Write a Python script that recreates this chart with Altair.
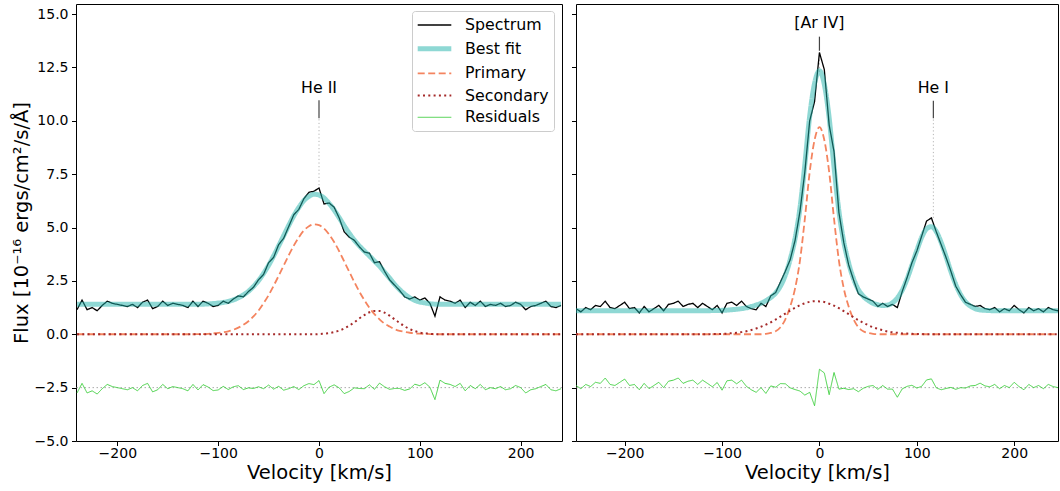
import json
import altair as alt
import pandas as pd

# ---------------- data ----------------
SERIES = ["Spectrum", "Best fit", "Primary", "Secondary", "Residuals"]

# Left panel (He II), velocity grid -240 ... 240 km/s, step 5
VEL_L = list(range(-240, 241, 5))
SPEC_L = [
    1.15, 1.60, 1.15, 1.25, 1.10, 1.35, 1.55, 1.45, 1.40, 1.35, 1.30, 1.40,
    1.25, 1.50, 1.60, 1.20, 1.30, 1.55, 1.35, 1.45, 1.40, 1.35, 1.25, 1.55,
    1.30, 1.55, 1.45, 1.30, 1.35, 1.55, 1.45, 1.65, 1.80, 1.75, 2.00, 2.20,
    2.55, 2.80, 3.35, 3.60, 4.20, 4.50, 5.05, 5.60, 5.85, 6.35, 6.65, 6.70,
    6.85, 6.10, 6.15, 5.95, 5.45, 4.80, 4.55, 4.40, 4.10, 3.85, 3.80, 3.35,
    3.40, 2.95, 2.55, 2.30, 2.05, 1.75, 1.65, 1.75, 1.60, 1.70, 1.45, 0.85,
    1.75, 1.60, 1.55, 1.45, 1.60, 1.25, 1.50, 1.35, 1.55, 1.30, 1.40, 1.35,
    1.45, 1.30, 1.35, 1.50, 1.40, 1.15, 1.30, 1.35, 1.45, 1.55, 1.30, 1.25,
    1.35,
]
FIT_L = [
    1.40, 1.40, 1.40, 1.40, 1.40, 1.40, 1.40, 1.40, 1.40, 1.40, 1.40, 1.40,
    1.40, 1.40, 1.40, 1.40, 1.40, 1.40, 1.40, 1.40, 1.40, 1.40, 1.40, 1.40,
    1.41, 1.41, 1.42, 1.44, 1.46, 1.49, 1.54, 1.61, 1.71, 1.84, 2.01, 2.24,
    2.51, 2.85, 3.23, 3.67, 4.14, 4.62, 5.10, 5.55, 5.94, 6.26, 6.46, 6.56,
    6.52, 6.38, 6.13, 5.82, 5.46, 5.08, 4.73, 4.41, 4.14, 3.90, 3.67, 3.43,
    3.19, 2.91, 2.63, 2.34, 2.09, 1.88, 1.71, 1.59, 1.51, 1.47, 1.43, 1.41,
    1.40, 1.40, 1.40, 1.40, 1.40, 1.40, 1.40, 1.40, 1.40, 1.40, 1.40, 1.40,
    1.40, 1.40, 1.40, 1.40, 1.40, 1.40, 1.40, 1.40, 1.40, 1.40, 1.40, 1.40,
    1.40,
]
PRIM_L = [
    0.00, 0.00, 0.00, 0.00, 0.00, 0.00, 0.00, 0.00, 0.00, 0.00, 0.00, 0.00,
    0.00, 0.00, 0.00, 0.00, 0.00, 0.00, 0.00, 0.00, 0.00, 0.00, 0.00, 0.00,
    0.01, 0.01, 0.02, 0.04, 0.06, 0.09, 0.14, 0.21, 0.31, 0.44, 0.61, 0.84,
    1.11, 1.45, 1.83, 2.27, 2.74, 3.22, 3.70, 4.15, 4.54, 4.86, 5.06, 5.15,
    5.11, 4.95, 4.68, 4.32, 3.89, 3.41, 2.93, 2.45, 2.00, 1.60, 1.24, 0.94,
    0.70, 0.50, 0.36, 0.24, 0.16, 0.11, 0.07, 0.04, 0.03, 0.02, 0.01, 0.00,
    0.00, 0.00, 0.00, 0.00, 0.00, 0.00, 0.00, 0.00, 0.00, 0.00, 0.00, 0.00,
    0.00, 0.00, 0.00, 0.00, 0.00, 0.00, 0.00, 0.00, 0.00, 0.00, 0.00, 0.00,
    0.00,
]
SEC_L = [
    0.00, 0.00, 0.00, 0.00, 0.00, 0.00, 0.00, 0.00, 0.00, 0.00, 0.00, 0.00,
    0.00, 0.00, 0.00, 0.00, 0.00, 0.00, 0.00, 0.00, 0.00, 0.00, 0.00, 0.00,
    0.00, 0.00, 0.00, 0.00, 0.00, 0.00, 0.00, 0.00, 0.00, 0.00, 0.00, 0.00,
    0.00, 0.00, 0.00, 0.00, 0.00, 0.00, 0.00, 0.00, 0.00, 0.00, 0.00, 0.00,
    0.01, 0.03, 0.05, 0.10, 0.17, 0.27, 0.40, 0.56, 0.74, 0.90, 1.03, 1.09,
    1.09, 1.01, 0.87, 0.70, 0.53, 0.37, 0.24, 0.15, 0.08, 0.05, 0.02, 0.01,
    0.00, 0.00, 0.00, 0.00, 0.00, 0.00, 0.00, 0.00, 0.00, 0.00, 0.00, 0.00,
    0.00, 0.00, 0.00, 0.00, 0.00, 0.00, 0.00, 0.00, 0.00, 0.00, 0.00, 0.00,
    0.00,
]
RES_L = [
    -2.75, -2.30, -2.75, -2.65, -2.80, -2.55, -2.35, -2.45, -2.50, -2.55, -2.60, -2.50,
    -2.65, -2.40, -2.30, -2.70, -2.60, -2.35, -2.55, -2.45, -2.50, -2.55, -2.65, -2.35,
    -2.61, -2.36, -2.47, -2.64, -2.61, -2.44, -2.59, -2.46, -2.41, -2.59, -2.51, -2.54,
    -2.46, -2.55, -2.38, -2.57, -2.44, -2.62, -2.55, -2.45, -2.59, -2.41, -2.31, -2.36,
    -2.17, -2.78, -2.48, -2.37, -2.51, -2.78, -2.68, -2.51, -2.54, -2.55, -2.37, -2.58,
    -2.29, -2.46, -2.58, -2.54, -2.54, -2.63, -2.56, -2.34, -2.41, -2.27, -2.48, -3.06,
    -2.15, -2.30, -2.35, -2.45, -2.30, -2.65, -2.40, -2.55, -2.35, -2.60, -2.50, -2.55,
    -2.45, -2.60, -2.55, -2.40, -2.50, -2.75, -2.60, -2.55, -2.45, -2.35, -2.60, -2.65,
    -2.55,
]

# Right panel ([Ar IV] + He I), velocity grid -250 ... 245 km/s, step 5
VEL_R = list(range(-250, 246, 5))
SPEC_R = [
    1.20, 1.05, 1.25, 1.15, 1.35, 1.30, 1.55, 1.25, 1.20, 1.35, 1.50, 1.20,
    1.25, 1.00, 1.30, 1.05, 1.20, 1.35, 1.10, 1.40, 1.45, 1.55, 1.30, 1.40,
    1.45, 1.25, 1.45, 1.30,
    1.15, 1.35, 1.00, 1.45, 1.50, 1.35, 1.55, 1.30, 1.20, 1.15, 1.45, 1.30,
    1.80, 1.95, 2.45, 2.95, 3.50, 4.40, 5.75, 7.60, 10.00, 10.90,
    13.20, 12.40, 9.80, 8.55, 5.70, 4.30, 3.25, 2.55, 1.90, 1.75, 1.65, 1.55,
    1.30, 1.45, 1.30, 1.40, 1.25, 2.00, 2.65, 3.35, 3.90, 4.60, 5.30, 5.45,
    4.80, 4.20, 3.60, 2.95, 2.25, 1.85, 1.50, 1.40, 1.30, 1.35, 1.20, 1.15,
    1.25, 1.05, 1.20, 1.10, 1.35, 1.15, 1.00, 1.25, 1.10, 1.20, 1.05, 1.25,
    1.15, 1.10,
]
FIT_R = [
    1.10, 1.10, 1.10, 1.10, 1.10, 1.10, 1.10, 1.10, 1.10, 1.10, 1.10, 1.10,
    1.10, 1.10, 1.10, 1.10, 1.10, 1.10, 1.10, 1.10, 1.10, 1.10, 1.10, 1.10,
    1.10, 1.10, 1.10, 1.10,
    1.11, 1.11, 1.12, 1.13, 1.15, 1.17, 1.20, 1.24, 1.30, 1.37, 1.45, 1.57,
    1.72, 1.93, 2.26, 2.77, 3.51, 4.49, 5.91, 7.95, 10.22, 11.75,
    12.34, 11.71, 10.13, 7.84, 5.77, 4.33, 3.34, 2.60, 2.09, 1.78, 1.59, 1.45,
    1.38, 1.35, 1.37, 1.47, 1.70, 2.06, 2.59, 3.24, 3.92, 4.54, 4.94, 5.04,
    4.81, 4.30, 3.64, 2.94, 2.33, 1.85, 1.52, 1.32, 1.20, 1.14, 1.12, 1.11,
    1.10, 1.10, 1.10, 1.10, 1.10, 1.10, 1.10, 1.10, 1.10, 1.10, 1.10, 1.10,
    1.10, 1.10,
]
PRIM_R = [
    0.00, 0.00, 0.00, 0.00, 0.00, 0.00, 0.00, 0.00, 0.00, 0.00, 0.00, 0.00,
    0.00, 0.00, 0.00, 0.00, 0.00, 0.00, 0.00, 0.00, 0.00, 0.00, 0.00, 0.00,
    0.00, 0.00, 0.00, 0.00, 0.00, 0.00, 0.00, 0.00, 0.00, 0.00, 0.00, 0.00,
    0.00, 0.00, 0.00,
    0.02, 0.06, 0.14, 0.33, 0.70, 1.30, 2.15, 3.45, 5.40, 7.60, 9.10, 9.70,
    9.10, 7.60, 5.40, 3.45, 2.15, 1.30, 0.70, 0.33, 0.14, 0.06, 0.02,
    0.00, 0.00, 0.00, 0.00, 0.00, 0.00, 0.00, 0.00, 0.00, 0.00, 0.00, 0.00,
    0.00, 0.00, 0.00, 0.00, 0.00, 0.00, 0.00, 0.00, 0.00, 0.00, 0.00, 0.00,
    0.00, 0.00, 0.00, 0.00, 0.00, 0.00, 0.00, 0.00, 0.00, 0.00, 0.00, 0.00,
    0.00, 0.00,
]
SEC_R = [
    0.00, 0.00, 0.00, 0.00, 0.00, 0.00, 0.00, 0.00, 0.00, 0.00, 0.00, 0.00,
    0.00, 0.00, 0.00, 0.00, 0.00, 0.00, 0.00, 0.00, 0.00, 0.00, 0.00, 0.00,
    0.00, 0.00, 0.00, 0.00,
    0.01, 0.01, 0.02, 0.03, 0.05, 0.07, 0.10, 0.14, 0.20, 0.27, 0.35, 0.45,
    0.56, 0.69, 0.83, 0.97, 1.11, 1.24, 1.36, 1.45, 1.52, 1.55,
    1.54, 1.51, 1.43, 1.34, 1.22, 1.08, 0.94, 0.80, 0.66, 0.54, 0.43, 0.33,
    0.25, 0.19, 0.13, 0.09, 0.07, 0.04, 0.03, 0.02, 0.01, 0.01,
    0.00, 0.00, 0.00, 0.00, 0.00, 0.00, 0.00, 0.00, 0.00, 0.00, 0.00, 0.00,
    0.00, 0.00, 0.00, 0.00, 0.00, 0.00, 0.00, 0.00, 0.00, 0.00, 0.00, 0.00,
    0.00, 0.00, 0.00, 0.00,
]
RES_R = [
    -2.40, -2.55, -2.35, -2.45, -2.25, -2.30, -2.05, -2.35, -2.40, -2.25, -2.10, -2.40,
    -2.35, -2.60, -2.30, -2.55, -2.40, -2.25, -2.50, -2.20, -2.15, -2.05, -2.30, -2.20,
    -2.15, -2.35, -2.15, -2.30,
    -2.46, -2.26, -2.62, -2.18, -2.15, -2.32, -2.15, -2.44, -2.60, -2.72, -2.50, -2.77,
    -2.42, -2.48, -2.31, -2.32, -2.51, -2.59, -2.66, -2.85, -2.72, -3.35,
    -1.64, -1.81, -2.83, -1.79, -2.57, -2.53, -2.59, -2.55, -2.69, -2.53, -2.44, -2.40,
    -2.58, -2.40, -2.57, -2.57, -2.95, -2.56, -2.44, -2.39, -2.52, -2.44, -2.14, -2.09,
    -2.51, -2.60, -2.54, -2.49, -2.58, -2.50, -2.52, -2.42, -2.40, -2.29, -2.42, -2.46,
    -2.35, -2.55, -2.40, -2.50, -2.25, -2.45, -2.60, -2.35, -2.50, -2.40, -2.55, -2.35,
    -2.45, -2.50,
]

# line identifications
ANN_L_V = [0]
ANN_L_LABEL = ["He II"]
ANN_L_TEXT_Y = [11.55]
ANN_L_TICK_LO = [10.12]
ANN_L_TICK_HI = [10.96]
ANN_L_GUIDE_LO = [6.98]

ANN_R_V = [0, 117]
ANN_R_LABEL = ["[Ar IV]", "He I"]
ANN_R_TEXT_Y = [14.57, 11.55]
ANN_R_TICK_LO = [13.28, 10.12]
ANN_R_TICK_HI = [13.94, 10.94]
ANN_R_GUIDE_LO = [12.3, 5.45]

RES_BASE = [-2.5]
XTICKS = [-200, -100, 0, 100, 200]
YTICKS = [-5, -2.5, 0, 2.5, 5, 7.5, 10, 12.5, 15]

for arr in (SPEC_L, FIT_L, PRIM_L, SEC_L, RES_L):
    assert len(arr) == len(VEL_L), len(arr)
for arr in (SPEC_R, FIT_R, PRIM_R, SEC_R, RES_R):
    assert len(arr) == len(VEL_R), len(arr)

# ---------------- styling ----------------
CODES = [0, 1, 2, 3, 4]
COLORS = ["#000000", "#20b2aa", "#f4845f", "#a52a2a", "#33cc33"]
WIDTHS = [1.3, 5.0, 1.8, 2.0, 0.9]
DASHES = [[1, 0], [1, 0], [7, 3.5], [2, 3.3], [1, 0]]
OPACS = [1.0, 0.5, 1.0, 1.0, 1.0]
INTERP = ["linear", "monotone", "monotone", "monotone", "linear"]
FONT = "DejaVu Sans"
YDOM = [-5, 15.47]
H = 437

NAMES_JS = json.dumps(SERIES).replace('"', "'")


def long_frame(vel, arrays):
    rows = []
    for code, (name, vals) in enumerate(zip(SERIES, arrays)):
        for v, f in zip(vel, vals):
            rows.append({"v": v, "flux": f, "series": name, "code": code})
    return pd.DataFrame(rows)


def panel(vel, arrays, xdom, width, ann, left_axis, legend):
    df = long_frame(vel, arrays)
    xs = alt.Scale(domain=xdom, nice=False, zero=False)
    ys = alt.Scale(domain=YDOM, nice=False, zero=False)
    xax = alt.Axis(values=XTICKS, title="Velocity [km/s]",
                   labelExpr="replace(format(datum.value, 'd'), '-', '\u2212')",
                   labelFlush=False, labelPadding=1, titlePadding=2.5)
    if left_axis:
        yax = alt.Axis(values=YTICKS, title="Flux [10\u207b\u00b9\u2076 ergs/cm\u00b2/s/\u00c5]",
                       labelExpr="replace(format(datum.value, '.1f'), '-', '\u2212')",
                       labelFlush=False, labelPadding=3.5, titlePadding=3)
    else:
        yax = alt.Axis(values=YTICKS, title=None, labels=False)

    X = lambda f: alt.X(f, scale=xs, axis=xax)
    Y = lambda f: alt.Y(f, scale=ys, axis=yax)

    layers = []
    base = alt.Chart(pd.DataFrame({"y": RES_BASE})).mark_rule(
        color="#aaaaaa", strokeDash=[1.5, 2.5], strokeWidth=1
    ).encode(y=Y("y:Q"))
    layers.append(base)

    adf = pd.DataFrame(ann)
    guide = alt.Chart(adf).mark_rule(color="#b5b5b5", strokeDash=[1.2, 2.4], strokeWidth=1).encode(
        x=X("v:Q"), y=Y("guide_lo:Q"), y2="tick_lo:Q")
    tick = alt.Chart(adf).mark_rule(color="#444444", strokeWidth=1.2).encode(
        x=X("v:Q"), y=Y("tick_lo:Q"), y2="tick_hi:Q")
    txt = alt.Chart(adf).mark_text(font=FONT, fontSize=15.8, color="black",
                                   baseline="middle", align="center").encode(
        x=X("v:Q"), y=Y("y_text:Q"), text="label:N")
    layers += [guide, tick, txt]

    for i, name in enumerate(SERIES):
        sub = df[df["series"] == name]
        layers.append(
            alt.Chart(sub).mark_line(clip=True, interpolate=INTERP[i]).encode(
                x=X("v:Q"), y=Y("flux:Q"),
                color=alt.Color("code:O", scale=alt.Scale(domain=CODES, range=COLORS), legend=legend),
                strokeDash=alt.StrokeDash("code:O", scale=alt.Scale(domain=CODES, range=DASHES), legend=legend),
                strokeWidth=alt.StrokeWidth("code:Q", scale=alt.Scale(type="threshold", domain=CODES, range=[1.0] + WIDTHS), legend=legend),
                opacity=alt.Opacity("code:Q", scale=alt.Scale(type="threshold", domain=CODES, range=[1.0] + OPACS), legend=legend),
            )
        )
    return alt.layer(*layers).properties(width=width, height=H)


LEG = alt.Legend(
    orient="none", legendX=336, legendY=7, title=None,
    symbolType="M-2.1,0H2.1", symbolSize=256, symbolOffset=7,
    labelOffset=20, padding=5, rowPadding=5.2,
    strokeColor="#cccccc", fillColor="white", cornerRadius=3,
    labelFont=FONT, labelFontSize=15.8, labelColor="black", labelLimit=300,
    labelExpr=f"{NAMES_JS}[datum.value]",
)

left = panel(
    VEL_L, [SPEC_L, FIT_L, PRIM_L, SEC_L, RES_L], [-241, 241], 486,
    {"v": ANN_L_V, "label": ANN_L_LABEL, "y_text": ANN_L_TEXT_Y,
     "tick_lo": ANN_L_TICK_LO, "tick_hi": ANN_L_TICK_HI, "guide_lo": ANN_L_GUIDE_LO},
    True, LEG,
)
right = panel(
    VEL_R, [SPEC_R, FIT_R, PRIM_R, SEC_R, RES_R], [-250, 245], 482,
    {"v": ANN_R_V, "label": ANN_R_LABEL, "y_text": ANN_R_TEXT_Y,
     "tick_lo": ANN_R_TICK_LO, "tick_hi": ANN_R_TICK_HI, "guide_lo": ANN_R_GUIDE_LO},
    False, None,
)

chart = (
    alt.hconcat(left, right, spacing=14, bounds="flush")
    .resolve_scale(color="independent", strokeDash="independent",
                   strokeWidth="independent", opacity="independent")
    .resolve_legend(color="independent", strokeDash="independent",
                    strokeWidth="independent", opacity="independent")
    .properties(padding={"left": 10, "top": 3, "right": 0, "bottom": 2}, background="white")
    .configure(font=FONT)
    .configure_view(stroke="black", strokeWidth=1)
    .configure_axis(
        grid=False, domain=False, tickColor="black", tickSize=4.5, tickWidth=1,
        labelFont=FONT, labelFontSize=14, labelColor="black",
        titleFont=FONT, titleFontSize=19.5, titleFontWeight="normal", titleColor="black",
    )
)

chart.save("out.html", embed_options={"renderer": "svg", "actions": False})
